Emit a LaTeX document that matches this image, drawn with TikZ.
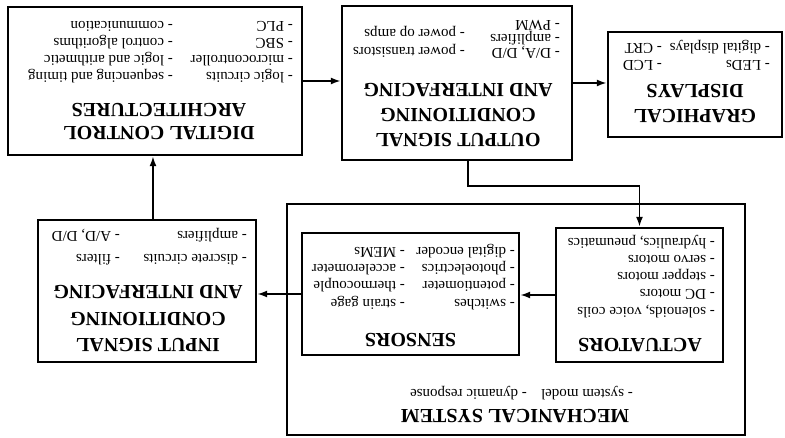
\documentclass[tikz,border=0pt]{standalone}
\usepackage{fontspec}
\setmainfont{Liberation Serif}
\usepackage{tikz}
\usetikzlibrary{arrows.meta}
\tikzset{
  blockbox/.style = {draw=black, line width=2.4pt, inner sep=0pt},
  sysbox/.style   = {draw=black, line width=1.1pt, inner sep=0pt},
  title/.style    = {font=\bfseries\fontsize{20}{#1}\selectfont, align=center, anchor=north, inner sep=0pt},
  title/.default  = 25,
  item/.style     = {font=\fontsize{15}{17}\selectfont, anchor=base west, inner sep=0pt},
  flow/.style     = {line width=1.8pt, -{Latex[length=10pt,width=7pt]}}
}

\begin{document}
\begin{tikzpicture}[x=1pt, y=-1pt, rotate=180, transform shape]
\useasboundingbox (0,0) rectangle (785,437);
% boxes
\node[sysbox,   minimum width=458pt, minimum height=231pt] (ms)  at (269,117.5) {};
\node[blockbox, minimum width=167pt, minimum height=134pt] (act) at (145.5,142) {};
\node[blockbox, minimum width=217pt, minimum height=122pt] (sen) at (374.5,143) {};
\node[blockbox, minimum width=218pt, minimum height=142pt] (isc) at (638,146) {};
\node[blockbox, minimum width=294pt, minimum height=148pt] (dca) at (630,356) {};
\node[blockbox, minimum width=230pt, minimum height=154pt] (osc) at (328,354) {};
\node[blockbox, minimum width=174pt, minimum height=105pt] (gd)  at (90,352.5) {};
% titles
\node[title] (ms-t)  at (270,13.7)  {MECHANICAL SYSTEM};
\node[title] (act-t) at (145,85.4)  {ACTUATORS};
\node[title] (sen-t) at (374.5,90.4) {SENSORS};
\node[title=26.8] (isc-t) at (637,84.7) {INPUT SIGNAL\\CONDITIONING\\AND INTERFACING};
\node[title=23.3] (dca-t) at (626,297) {DIGITAL CONTROL\\ARCHITECTURES};
\node[title] (osc-t) at (327,290.4) {OUTPUT SIGNAL\\CONDITIONING\\AND INTERFACING};
\node[title] (gd-t)  at (90,313.7)  {GRAPHICAL\\DISPLAYS};
% item lists
\node[item] (ms-a) at (152,48) {- system model};
\node[item] (ms-b) at (258,48) {- dynamic response};
\foreach \txt [count=\i] in {{solenoids, voice coils}, DC motors, stepper motors, servo motors, {hydraulics, pneumatics}}
  \node[item] (act-a\i) at (70,{130+17.2*(\i-1)}) {- \txt};
\foreach \txt [count=\i] in {switches, potentiometer, photoelectrics, digital encoder}
  \node[item] (sen-a\i) at (270,{138+17.2*(\i-1)}) {- \txt};
\foreach \txt [count=\i] in {strain gage, thermocouple, accelerometer, MEMs}
  \node[item] (sen-b\i) at (380,{138+17.2*(\i-1)}) {- \txt};
\foreach \txt [count=\i] in {discrete circuits, amplifiers}
  \node[item] (isc-a\i) at (538,{183+22.5*(\i-1)}) {- \txt};
\foreach \txt [count=\i] in {filters, {A/D, D/D}}
  \node[item] (isc-b\i) at (665,{183+22.5*(\i-1)}) {- \txt};
\foreach \txt [count=\i] in {logic circuits, microcontroller, SBC, PLC}
  \node[item] (dca-a\i) at (492,{364.3+17.2*(\i-1)}) {- \txt};
\foreach \txt [count=\i] in {sequencing and timing, logic and arithmetic, control algorithms, communication}
  \node[item] (dca-b\i) at (612,{364.3+17.2*(\i-1)}) {- \txt};
\foreach \txt [count=\i] in {{D/A, D/D}, amplifiers, PWM}
  \node[item] (osc-a\i) at (225,{388+14.2*(\i-1)}) {- \txt};
\foreach \txt [count=\i] in {power transistors, power op amps}
  \node[item] (osc-b\i) at (320,{389.3+18.4*(\i-1)}) {- \txt};
\foreach \txt [count=\i] in {LEDs, digital displays}
  \node[item] (gd-a\i) at (15,{376+17*(\i-1)}) {- \txt};
\foreach \txt [count=\i] in {LCD, CRT}
  \node[item] (gd-b\i) at (123,{376+17*(\i-1)}) {- \txt};
% signal flow
\draw[flow] (act.east) -- (act.east -| sen.west);
\draw[flow] (sen.east) -- (sen.east -| isc.west);
\draw[flow] ([xshift=-6pt]isc.south) -- ([xshift=-6pt]isc.south |- dca.north);
\draw[flow] (dca.west) -- (dca.west -| osc.east);
\draw[flow] (osc.west) -- (osc.west -| gd.east);
\draw[flow] ([xshift=-11pt]osc.north) -- ++(0,-25) -| (act.south);
\end{tikzpicture}
\end{document}
